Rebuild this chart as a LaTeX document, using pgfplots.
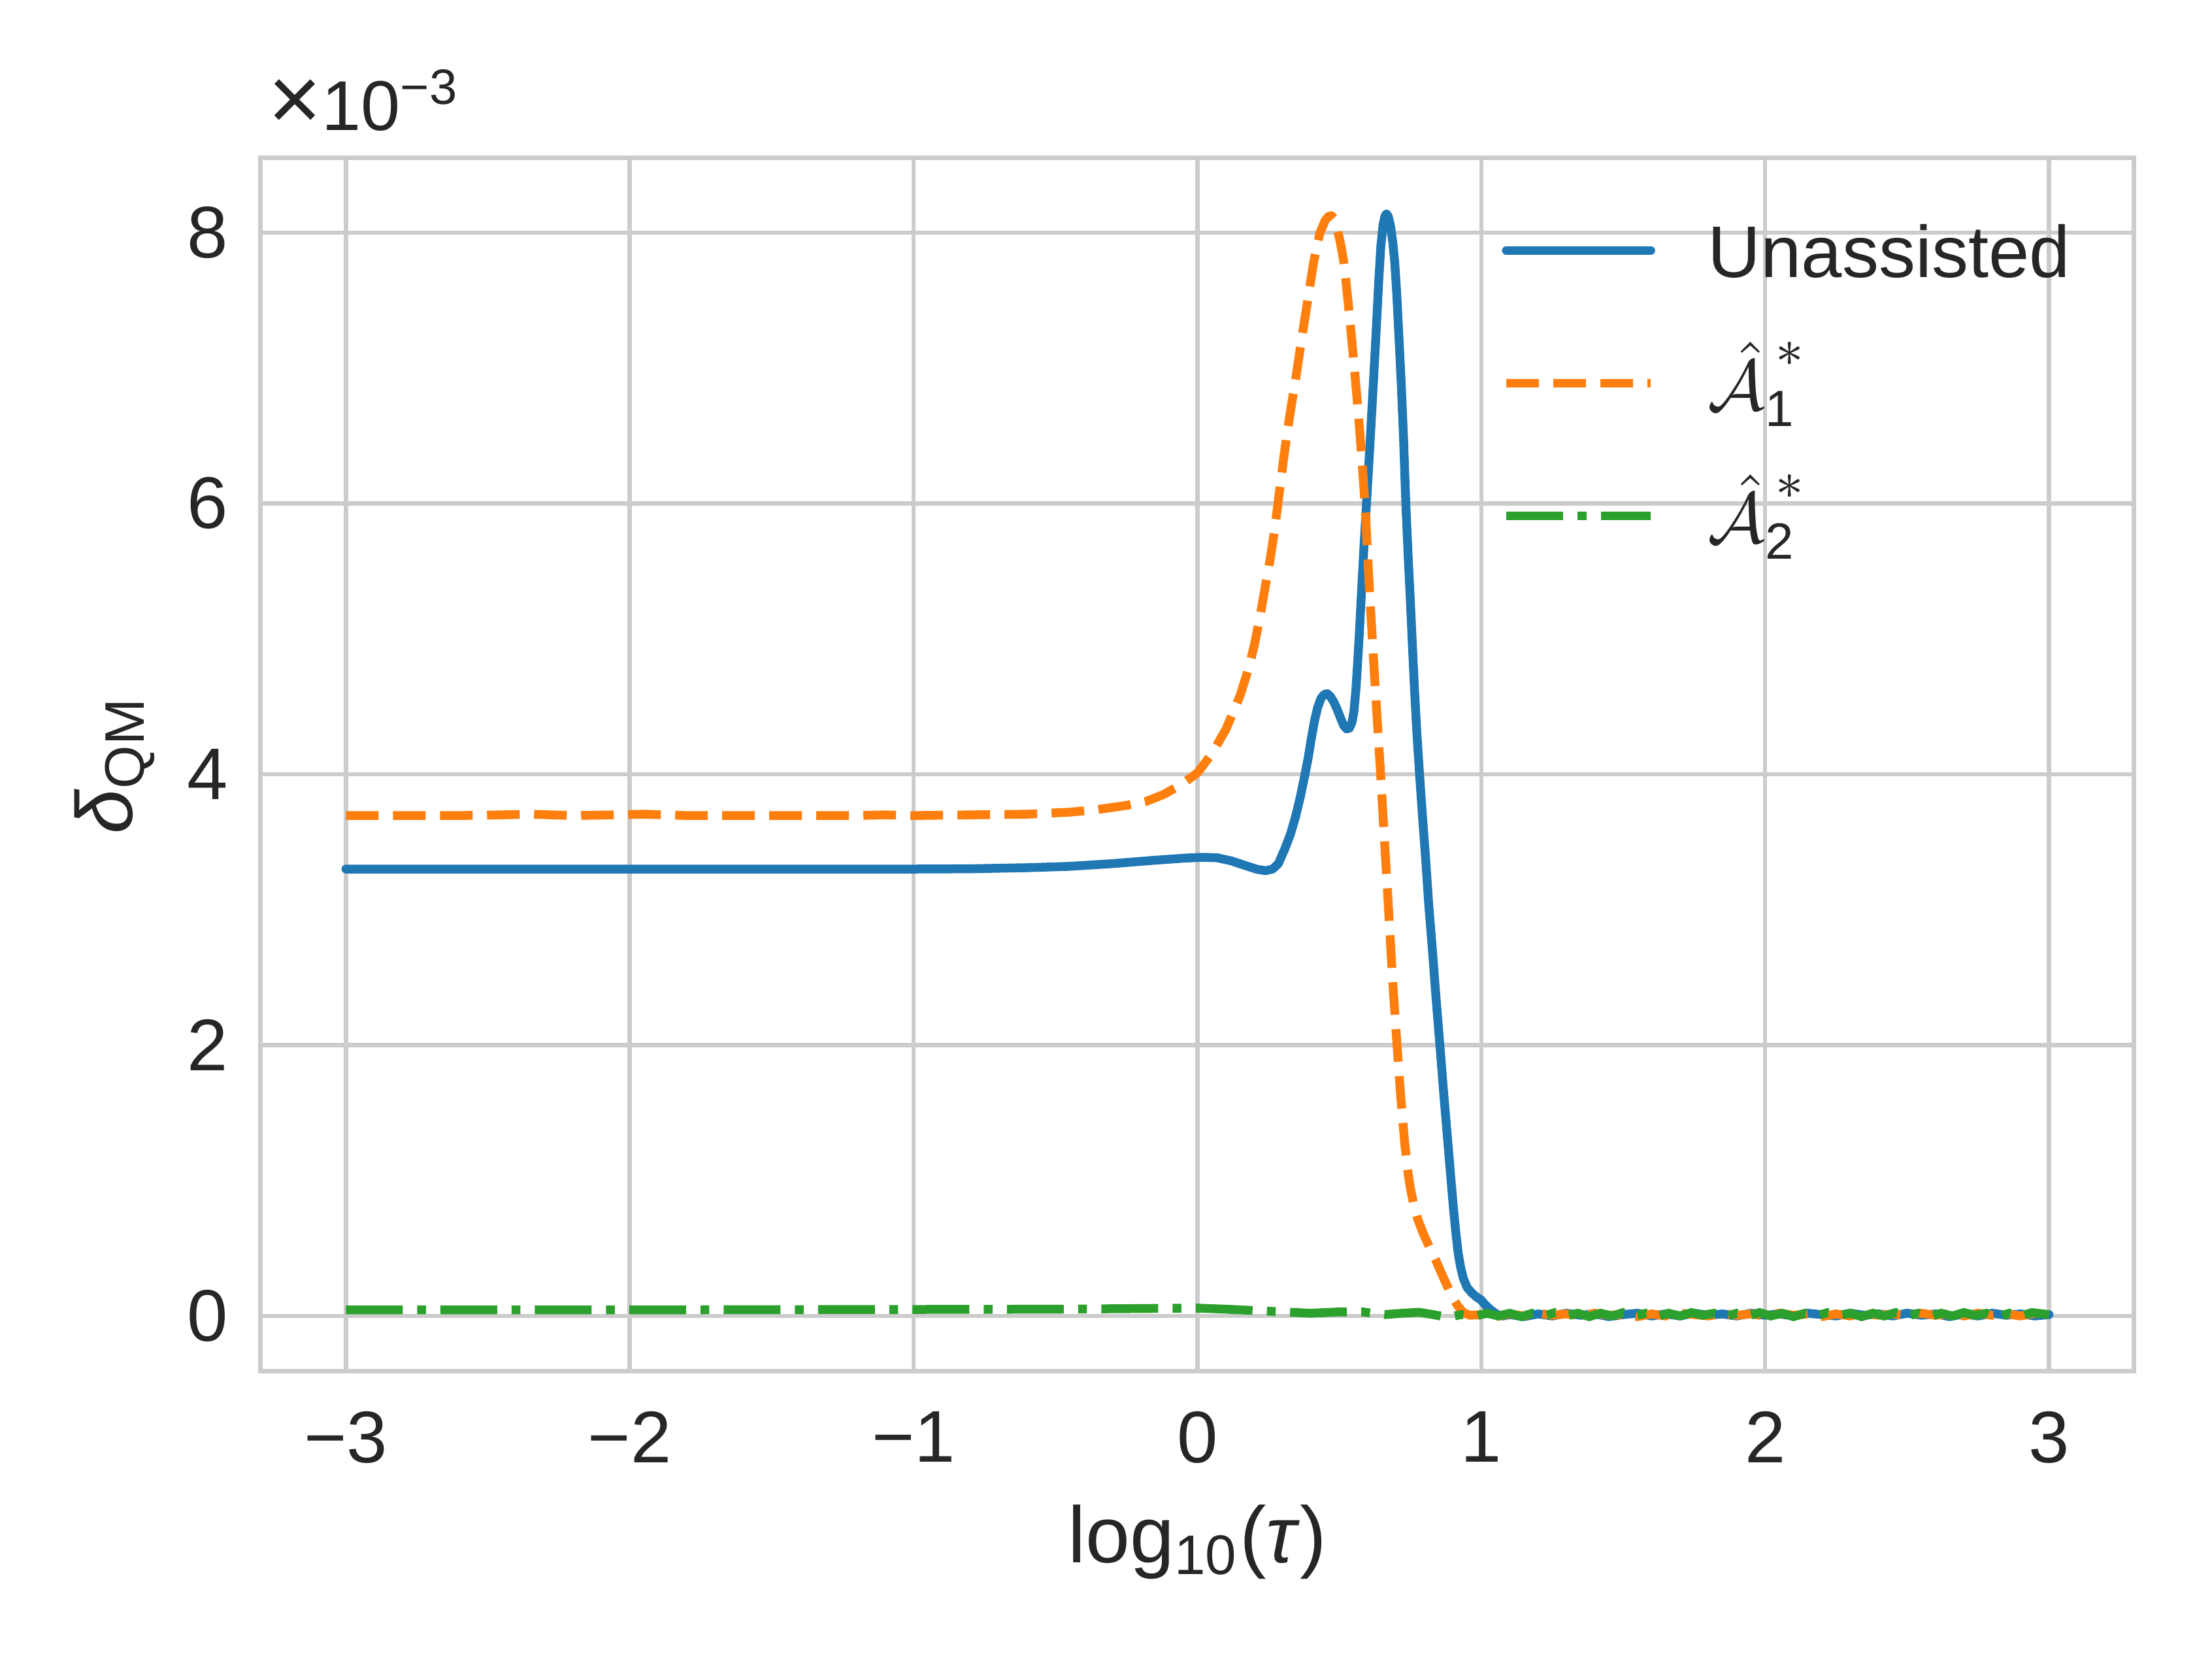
\documentclass[border=0pt]{standalone}
\usepackage{amsmath}
\usepackage{fontspec}
\setmainfont{Liberation Sans}
\usepackage{pgfplots}
\pgfplotsset{compat=1.18}
\definecolor{c1}{HTML}{1F77B4}
\definecolor{c2}{HTML}{FF7F0E}
\definecolor{c3}{HTML}{2CA02C}
\definecolor{txt}{HTML}{262626}
\definecolor{gridc}{HTML}{CCCCCC}
\newcommand{\legA}[1]{$\hat{\mathcal{A}}$\rlap{\hspace{1.6pt}\raisebox{6.7pt}{$\scriptstyle\ast$}}\raisebox{-2.56pt}{\fontsize{7.8}{8}\selectfont #1}}
\begin{document}
\begin{tikzpicture}
\useasboundingbox (-39.9pt,-44.0pt) rectangle (298.6pt,209.9pt);
\begin{axis}[
  name=ax,
  at={(0,0)}, anchor=south west,
  scale only axis, width=286.7pt, height=185.7pt,
  xmin=-3.3, xmax=3.3, ymin=-0.41, ymax=8.55,
  xtick={-3,-2,-1,0,1,2,3}, xticklabels={−3,−2,−1,0,1,2,3},
  ytick={0,2,4,6,8}, yticklabels={0,2,4,6,8},
  scaled y ticks=false,
  major tick length=0pt,
  grid=major,
  major grid style={gridc, line width=0.65pt},
  axis line style={gridc, line width=0.7pt},
  tick label style={font=\fontsize{11.2}{13}\selectfont, text=txt},
  xticklabel style={anchor=north, inner sep=0pt, yshift=-5.9pt},
  yticklabel style={anchor=east, inner sep=0pt, xshift=-4.8pt},
  label style={font=\fontsize{12.2}{14}\selectfont, text=txt},
  xlabel={log\textsubscript{10}(\textit{τ})},
  ylabel={\textit{δ}\textsubscript{QM}},
  xlabel style={at={(axis description cs:0.5,-0.1405)}, anchor=center},
  ylabel style={at={(axis description cs:-0.078,0.5)}, anchor=center},
  legend cell align=left,
  legend image code/.code={\draw[#1] (0pt,0pt) -- (22.1pt,0pt);},
  legend style={at={(axis description cs:0.6625,0.9675)}, anchor=north west,
    draw=none, fill=none, inner sep=0pt, outer sep=0pt, row sep=4.1pt,
    font=\fontsize{11.2}{13}\selectfont, text=txt,
    nodes={inner sep=0pt, text height=12.2pt, text depth=4.0pt},
    /tikz/every odd column/.append style={column sep=8.1pt}},
]
\addplot[c1, line width=1.35pt, line cap=round, line join=round] coordinates {
(-3,3.30) (-2,3.30) (-1,3.30) (-0.8,3.302) (-0.6,3.31) (-0.45,3.32) (-0.3,3.34) (-0.15,3.365)
(-0.05,3.38) (0.02,3.387) (0.07,3.383) (0.12,3.36) (0.17,3.325) (0.21,3.298) (0.24,3.288)
(0.265,3.30) (0.285,3.34) (0.308,3.45) (0.328,3.56) (0.346,3.69) (0.362,3.83) (0.377,3.98)
(0.39,4.12) (0.40,4.25) (0.412,4.39) (0.423,4.49) (0.435,4.56) (0.447,4.59) (0.4575,4.595)
(0.468,4.575) (0.48,4.535) (0.492,4.48) (0.505,4.41) (0.515,4.36) (0.525,4.335) (0.535,4.34)
(0.544,4.38) (0.551,4.46) (0.558,4.62) (0.565,4.85) (0.571,5.07) (0.578,5.35) (0.587,5.70)
(0.596,6.02) (0.604,6.30) (0.612,6.60) (0.620,6.90) (0.629,7.25) (0.638,7.62) (0.646,7.90)
(0.654,8.06) (0.661,8.125) (0.666,8.137) (0.672,8.12) (0.680,8.05) (0.688,7.93)
(0.695,7.78) (0.702,7.55) (0.710,7.22) (0.718,6.88) (0.726,6.48) (0.734,6.0) (0.742,5.62)
(0.750,5.28) (0.757,4.96) (0.764,4.65) (0.773,4.30) (0.783,3.98) (0.793,3.68) (0.804,3.37)
(0.815,3.03) (0.827,2.72) (0.840,2.36) (0.854,2.0) (0.868,1.63) (0.883,1.26) (0.893,1.01)
(0.902,0.79) (0.910,0.62) (0.918,0.47) (0.927,0.36) (0.937,0.275) (0.950,0.21) (0.967,0.169)
(0.983,0.14) (0.998,0.12) (1.015,0.08) (1.036,0.04) (1.055,0.012) (1.075,0.0)
(1.10,0.01) (1.15,-0.005) (1.2,0.015) (1.25,0.0) (1.3,0.02) (1.35,0.005) (1.4,0.015)
(1.45,-0.005) (1.5,0.01) (1.55,0.02) (1.6,0.0) (1.65,0.015) (1.7,0.0) (1.75,0.02)
(1.8,0.005) (1.85,0.015) (1.9,0.0) (1.95,0.02) (2.0,0.005) (2.05,0.015) (2.1,0.0)
(2.15,0.02) (2.2,0.01) (2.25,0.0) (2.3,0.02) (2.35,0.005) (2.4,0.015) (2.45,0.0)
(2.5,0.02) (2.55,0.005) (2.6,0.015) (2.65,-0.005) (2.7,0.015) (2.75,0.0) (2.8,0.02)
(2.85,0.005) (2.9,0.015) (2.95,0.0) (3.0,0.01)
};
\addlegendentry{Unassisted}
\addplot[c2, line width=1.35pt, dash pattern=on 5.0pt off 2.2pt, line join=round] coordinates {
(-3,3.695) (-2.6,3.695) (-2.45,3.70) (-2.35,3.705) (-2.2,3.695) (-2.05,3.70) (-1.95,3.705)
(-1.8,3.695) (-1.5,3.695) (-1.2,3.695) (-1.1,3.70) (-1.0,3.695) (-0.8,3.70) (-0.6,3.705)
(-0.45,3.72) (-0.35,3.74) (-0.25,3.77) (-0.18,3.80) (-0.12,3.85) (-0.06,3.92) (0.0,4.01)
(0.05,4.15) (0.1,4.33) (0.15,4.58) (0.18,4.78) (0.2,4.95) (0.22,5.16) (0.24,5.40)
(0.257,5.60) (0.2735,5.83) (0.293,6.16) (0.308,6.40) (0.323,6.62) (0.346,6.92) (0.369,7.24)
(0.392,7.55) (0.410,7.79) (0.431,7.995) (0.45,8.09) (0.462,8.12) (0.472,8.125) (0.482,8.10)
(0.492,8.03) (0.503,7.93) (0.515,7.79) (0.528,7.545) (0.543,7.22) (0.557,6.90)
(0.571,6.55) (0.580,6.30) (0.590,6.0) (0.598,5.68) (0.607,5.32) (0.616,5.00) (0.624,4.72)
(0.634,4.38) (0.645,4.01) (0.653,3.72) (0.661,3.43) (0.670,3.12) (0.678,2.82) (0.690,2.40)
(0.703,2.0) (0.716,1.62) (0.730,1.28) (0.740,1.08) (0.749,0.956) (0.762,0.82) (0.776,0.715)
(0.797,0.60) (0.818,0.506) (0.840,0.41) (0.860,0.313) (0.878,0.23) (0.895,0.153)
(0.915,0.08) (0.937,0.024) (0.96,0.005)
(1.0,0.01) (1.05,-0.005) (1.1,0.015) (1.15,0.0) (1.2,0.02) (1.25,0.005) (1.3,0.015)
(1.35,0.0) (1.4,0.02) (1.45,0.005) (1.5,0.01) (1.55,-0.005) (1.6,0.015) (1.65,0.0)
(1.7,0.02) (1.75,0.01) (1.8,0.0) (1.85,0.02) (1.9,0.005) (1.95,0.015) (2.0,0.0)
(2.05,0.02) (2.1,0.005) (2.15,0.015) (2.2,-0.005) (2.25,0.015) (2.3,0.0) (2.35,0.02)
(2.4,0.005) (2.45,0.015) (2.5,0.0) (2.55,0.02) (2.6,0.005) (2.65,0.015) (2.7,0.0)
(2.75,0.02) (2.8,0.005) (2.85,0.015) (2.9,0.0) (2.95,0.02) (3.0,0.01)
};
\addlegendentry{\legA{1}}
\addplot[c3, line width=1.35pt, dash pattern=on 8.7pt off 2.2pt on 1.35pt off 2.2pt] coordinates {
(-3,0.045) (-2,0.045) (-1,0.048) (-0.5,0.05) (0,0.058) (0.1,0.05) (0.2,0.04) (0.3,0.03)
(0.4,0.02) (0.5,0.03) (0.58,0.03) (0.66,0.01) (0.72,0.02) (0.78,0.027) (0.83,0.01)
(0.88,-0.01) (0.93,0.01) (0.98,0.0)
(1.02,0.02) (1.06,0.0) (1.10,0.02) (1.14,-0.005) (1.18,0.02) (1.22,0.0) (1.26,0.025)
(1.30,0.0) (1.34,0.02) (1.38,-0.005) (1.42,0.02) (1.46,0.0) (1.50,0.025) (1.54,0.0)
(1.58,0.02) (1.62,-0.005) (1.66,0.02) (1.70,0.0) (1.74,0.025) (1.78,0.005) (1.82,0.02)
(1.86,-0.005) (1.90,0.02) (1.94,0.0) (1.98,0.025) (2.02,0.0) (2.06,0.02) (2.10,-0.005)
(2.14,0.02) (2.18,0.0) (2.22,0.025) (2.26,0.005) (2.30,0.02) (2.34,-0.005) (2.38,0.02)
(2.42,0.0) (2.46,0.025) (2.50,0.0) (2.54,0.02) (2.58,-0.005) (2.62,0.02) (2.66,0.0)
(2.70,0.025) (2.74,0.005) (2.78,0.02) (2.82,-0.005) (2.86,0.02) (2.90,0.0) (2.94,0.025)
(3.0,0.01)
};
\addlegendentry{\legA{2}}
\end{axis}
\node[anchor=base west, inner sep=0pt, font=\fontsize{10.8}{12}\selectfont, text=txt,
  xshift=1.0pt, yshift=4.2pt] at (ax.north west) {{\fontsize{14}{14}\selectfont ×}10\raisebox{4pt}{\fontsize{7.6}{8}\selectfont −3}};
\end{tikzpicture}
\end{document}
